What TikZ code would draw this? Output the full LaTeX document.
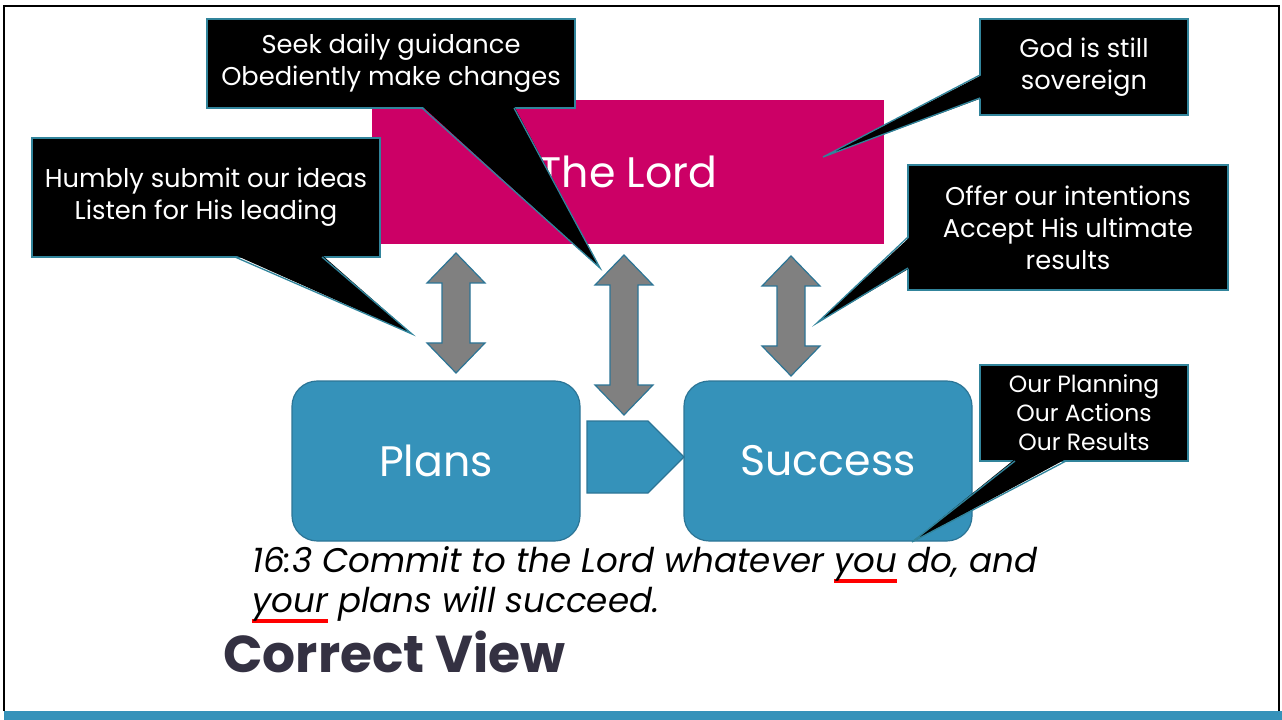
\documentclass[tikz,border=0pt]{standalone}
\usepackage{fontspec}
\setmainfont{Poppins}
\usepackage{tikz}
\usetikzlibrary{calc,shapes.symbols}
\usepackage{xcolor}
\definecolor{LordPink}{HTML}{CC0066}
\definecolor{StepBlue}{HTML}{3592BA}
\definecolor{StepEdge}{HTML}{2C7596}
\definecolor{BubbleEdge}{HTML}{31849B}
\definecolor{ArrowGray}{HTML}{808080}
\definecolor{TitleInk}{HTML}{343142}
\definecolor{MarkRed}{HTML}{FF0000}

\newsavebox{\markbox}
\newcommand{\redmark}[1]{\sbox{\markbox}{#1}%
  \rlap{\textcolor{MarkRed}{\rule[-8pt]{\wd\markbox}{3pt}}}\usebox{\markbox}}

\begin{document}
\begin{tikzpicture}[
  x=0.75pt,y=-0.75pt,
  frame/.style={draw=black,line width=1.5pt},
  lordbox/.style={fill=LordPink,text=white,minimum width=384pt,minimum height=108pt,
    inner sep=0pt,outer sep=0pt,font=\fontsize{32}{38}\selectfont},
  stepbox/.style={fill=StepBlue,draw=StepEdge,line width=0.9pt,rounded corners=19pt,
    text=white,minimum width=216pt,minimum height=120pt,inner sep=0pt,
    font=\fontsize{32}{38}\selectfont},
  updown/.style={fill=ArrowGray,draw=StepEdge,line width=0.9pt,line join=miter},
  bubble/.style={fill=black,draw=BubbleEdge,line width=1pt,text=white,align=center,
    inner sep=0pt,outer sep=0pt,font=\fontsize{19.3}{24}\selectfont},
  tail/.style={fill=black},
  tailedge/.style={draw=BubbleEdge,line width=1pt,line join=miter},
  verse/.style={align=left,inner sep=0pt,font=\itshape\fontsize{25.6}{30}\selectfont},
  title/.style={inner sep=0pt,text=TitleInk,font=\bfseries\fontsize{38.9}{46}\selectfont}
]
\useasboundingbox (0,0) rectangle (1282,720);

% slide frame and footer bar
\draw[frame] (4,711) |- (1279,6) -- (1279,711);
\fill[StepBlue] (4,711) rectangle (1282,720);

\node[lordbox] (lord) at (628,172) {The Lord};

% two-way arrows between the Lord and our steps
\foreach \ax/\ya/\yb in {456/253/373, 624/255/415, 791/256/376}
  \draw[updown] (\ax,\ya) -- (\ax+29,\ya+30) -- (\ax+14,\ya+30) -- (\ax+14,\yb-30)
    -- (\ax+29,\yb-30) -- (\ax,\yb) -- (\ax-29,\yb-30) -- (\ax-14,\yb-30)
    -- (\ax-14,\ya+30) -- (\ax-29,\ya+30) -- cycle;

\node[stepbox] (plans) at (436,461) {Plans};
\node[stepbox] (success) at (828,461) {Success};
\node[signal,signal to=east,fill=StepBlue,draw=StepEdge,line width=0.9pt,anchor=west,
  minimum width=72.75pt,minimum height=54pt,inner sep=0pt,outer sep=0pt] (go) at (587,457) {};

% callouts
\node[bubble,minimum width=276pt,minimum height=66.75pt] (seek) at (391,63.5)
  {Seek daily guidance\\Obediently make changes};
\coordinate (seektip) at (600,268);
\fill[tail] ($(seek.south west)+(215,-2)$) -- (seektip) -- ($(seek.south west)+(307,-2)$) -- cycle;
\draw[tailedge] ($(seek.south west)+(215,0)$) -- (seektip) -- ($(seek.south west)+(307,0)$);

\node[bubble,minimum width=261pt,minimum height=89.25pt] (humbly) at (206,197.5)
  {Humbly submit our ideas\\Listen for His leading};
\coordinate (humblytip) at (412,334);
\fill[tail] ($(humbly.south west)+(203,-2)$) -- (humblytip) -- ($(humbly.south west)+(290,-2)$) -- cycle;
\draw[tailedge] ($(humbly.south west)+(203,0)$) -- (humblytip) -- ($(humbly.south west)+(290,0)$);

\node[bubble,minimum width=156pt,minimum height=72pt] (god) at (1084,67)
  {God is still\\sovereign};
\coordinate (godtip) at (823,157);
\fill[tail] ($(god.north west)+(2,56)$) -- (godtip) -- ($(god.north west)+(2,79)$) -- cycle;
\draw[tailedge] ($(god.north west)+(0,56)$) -- (godtip) -- ($(god.north west)+(0,79)$);

\node[bubble,minimum width=240pt,minimum height=93.75pt] (offer) at (1068,227.5)
  {Offer our intentions\\Accept His ultimate\\results};
\coordinate (offertip) at (817,323);
\fill[tail] ($(offer.north west)+(2,72)$) -- (offertip) -- ($(offer.north west)+(2,103)$) -- cycle;
\draw[tailedge] ($(offer.north west)+(0,72)$) -- (offertip) -- ($(offer.north west)+(0,103)$);

\node[bubble,minimum width=156pt,minimum height=72pt,font=\fontsize{17.6}{21.75}\selectfont] (ours) at (1084,413)
  {Our Planning\\Our Actions\\Our Results};
\coordinate (ourstip) at (912,542);
\fill[tail] ($(ours.south west)+(35,-2)$) -- (ourstip) -- ($(ours.south west)+(86,-2)$) -- cycle;
\draw[tailedge] ($(ours.south west)+(35,0)$) -- (ourstip) -- ($(ours.south west)+(86,0)$);

% verse and slide title
\node[verse,anchor=base west] (verse) at (252,612)
  {16:3 Commit to the Lord whatever \redmark{you} do, and\\\redmark{your} plans will succeed.};
\node[title,anchor=base west] (heading) at (223,672) {Correct View};

\end{tikzpicture}
\end{document}
